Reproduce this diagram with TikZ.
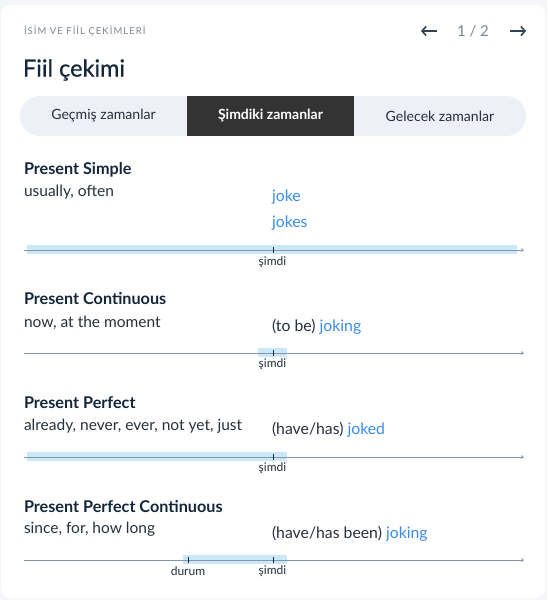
\documentclass[tikz,border=0pt]{standalone}
\usepackage{fontspec}
\setmainfont{Lato}
\usetikzlibrary{arrows.meta}
\definecolor{pagebg}{HTML}{F4F6FA}
\definecolor{tabbg}{HTML}{EDF0F7}
\definecolor{tabdark}{HTML}{333333}
\definecolor{navy}{HTML}{14263A}
\definecolor{bodytxt}{HTML}{26313C}
\definecolor{jokeblue}{HTML}{3A8DEB}
\definecolor{bandblue}{HTML}{CBE8F9}
\definecolor{axisgray}{HTML}{8796A4}
\definecolor{smallgray}{HTML}{7C8792}
\definecolor{arrowdark}{HTML}{2E4452}
\tikzset{
  x=1pt, y=-1pt,
  every node/.style={inner sep=0pt, outer sep=0pt},
  sectitle/.style={anchor=west, font=\fontsize{16.2}{19}\selectfont\bfseries, text=navy},
  hint/.style={anchor=west, font=\fontsize{15.5}{18}\selectfont, text=bodytxt},
  form/.style={anchor=west, font=\fontsize{15.8}{18}\selectfont, text=bodytxt},
  tabtxt/.style={font=\fontsize{14.1}{17}\selectfont, text=bodytxt},
  axis/.style={draw=axisgray, line width=0.8pt, -{Straight Barb[length=2pt,width=3pt]}},
  band/.style={fill=bandblue, draw=none},
  tick/.style={draw=navy, line width=0.7pt},
  ticklbl/.style={font=\fontsize{12}{14}\selectfont, text=bodytxt},
}
\begin{document}
\begin{tikzpicture}
\useasboundingbox (0,0) rectangle (547,600);
\fill[pagebg] (0,0) rectangle (547,600);
\fill[white, rounded corners=9pt] (1,5) rectangle (545,598);

% header
\node[anchor=west, font=\fontsize{9.5}{11}\selectfont\addfontfeature{LetterSpace=11}, text=smallgray] (cat) at (24,31) {İSİM VE FİİL ÇEKİMLERİ};
\node[font=\fontsize{15}{18}\selectfont, text=smallgray] (page) at (473,31) {1 / 2};
\coordinate (la1) at (437,31); \coordinate (la2) at (421,31);
\coordinate (ra1) at (510,31); \coordinate (ra2) at (526,31);
\draw[arrowdark, line width=1.6pt, -{Straight Barb[length=4pt,width=9pt]}] (la1) -- (la2);
\draw[arrowdark, line width=1.6pt, -{Straight Barb[length=4pt,width=9pt]}] (ra1) -- (ra2);
\node[anchor=west, font=\fontsize{23.5}{28}\selectfont\addfontfeature{FakeBold=0.6}, text=navy] (title) at (23,70) {Fiil çekimi};

% tabs
\fill[tabbg, rounded corners=20pt] (20,96) rectangle (526,136);
\fill[tabdark] (187,96) rectangle (354,136);
\node[tabtxt] (t1) at (103.5,116) {Geçmiş zamanlar};
\node[tabtxt, text=white, font=\fontsize{14}{17}\selectfont\bfseries] (t2) at (270.5,116) {Şimdiki zamanlar};
\node[tabtxt] (t3) at (440,116) {Gelecek zamanlar};

% Present Simple
\node[sectitle] (s1) at (24,170) {Present Simple};
\node[hint] (h1) at (24,192) {usually, often};
\node[form, text=jokeblue] (f1a) at (272,197) {joke};
\node[form, text=jokeblue] (f1b) at (272,223) {jokes};
\fill[band] (27,245) rectangle (517,254);
\coordinate (a1s) at (24,250); \coordinate (a1e) at (524,250);
\draw[axis] (a1s) -- (a1e);
\coordinate (n1) at (273,250);
\draw[tick] ([yshift=3pt]n1) -- ([yshift=-3pt]n1);
\node[ticklbl] (l1) at (272.5,262) {şimdi};

% Present Continuous
\node[sectitle] (s2) at (24,299) {Present Continuous};
\node[hint] (h2) at (24,323) {now, at the moment};
\node[form] (f2) at (272,327) {(to be) \textcolor{jokeblue}{joking}};
\fill[band] (258,348) rectangle (287,357);
\coordinate (a2s) at (24,353); \coordinate (a2e) at (524,353);
\draw[axis] (a2s) -- (a2e);
\coordinate (n2) at (273,353);
\draw[tick] ([yshift=3pt]n2) -- ([yshift=-3pt]n2);
\node[ticklbl] (l2) at (272.5,364) {şimdi};

% Present Perfect
\node[sectitle] (s3) at (24,403) {Present Perfect};
\node[hint] (h3) at (24,426) {already, never, ever, not yet, just};
\node[form] (f3) at (272,430) {(have/has) \textcolor{jokeblue}{joked}};
\fill[band] (27,452) rectangle (287,461);
\coordinate (a3s) at (24,457); \coordinate (a3e) at (524,457);
\draw[axis] (a3s) -- (a3e);
\coordinate (n3) at (273,457);
\draw[tick] ([yshift=3pt]n3) -- ([yshift=-3pt]n3);
\node[ticklbl] (l3) at (272.5,468) {şimdi};

% Present Perfect Continuous
\node[sectitle] (s4) at (24,507) {Present Perfect Continuous};
\node[hint] (h4) at (24,529) {since, for, how long};
\node[form] (f4) at (272,534) {(have/has been) \textcolor{jokeblue}{joking}};
\fill[band] (183,555) rectangle (287,564);
\coordinate (a4s) at (24,560); \coordinate (a4e) at (524,560);
\draw[axis] (a4s) -- (a4e);
\coordinate (d4) at (188,560);
\coordinate (n4) at (273,560);
\draw[tick] ([yshift=3pt]d4) -- ([yshift=-3pt]d4);
\draw[tick] ([yshift=3pt]n4) -- ([yshift=-3pt]n4);
\node[ticklbl] (ld4) at (188,571) {durum};
\node[ticklbl] (l4) at (272.5,571) {şimdi};
\end{tikzpicture}
\end{document}
